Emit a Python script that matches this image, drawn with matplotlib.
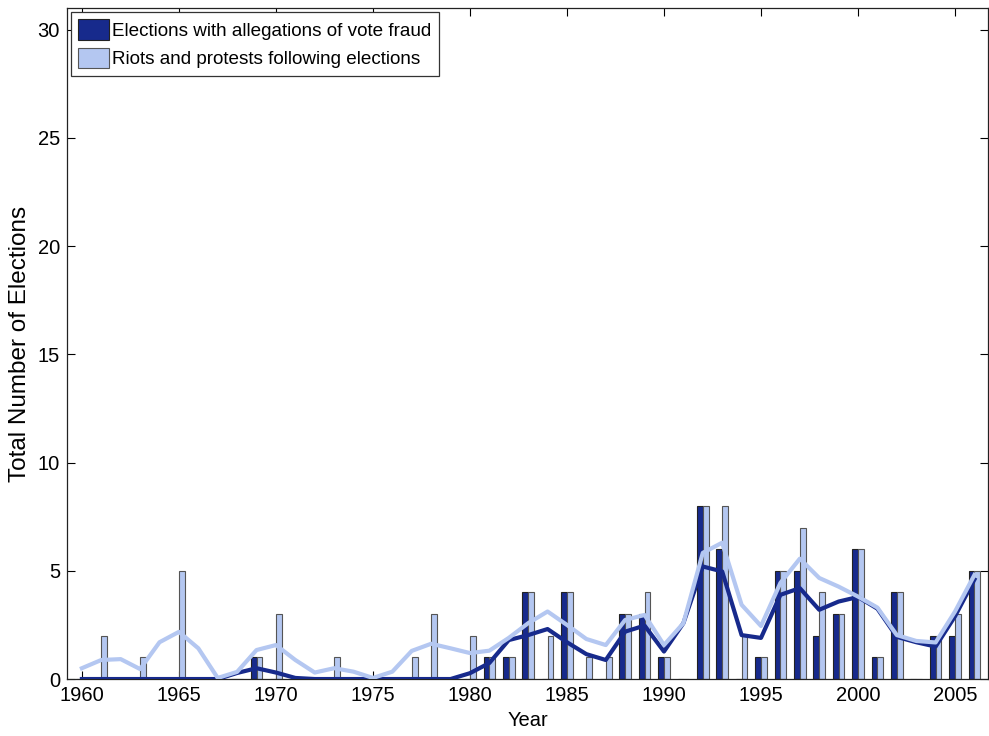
import matplotlib
matplotlib.use("Agg")
import matplotlib.pyplot as plt
import numpy as np

years = list(range(1960, 2007))

# bar counts per year (1960..2006)
fraud = [0, 0, 0, 0, 0, 0, 0, 0, 0, 1,
         0, 0, 0, 0, 0, 0, 0, 0, 0, 0,
         0, 1, 1, 4, 0, 4, 0, 0, 3, 3,
         1, 0, 8, 6, 0, 1, 5, 5, 2, 3,
         6, 1, 4, 0, 2, 2, 5]
riots = [0, 2, 0, 1, 0, 5, 0, 0, 0, 1,
         3, 0, 0, 1, 0, 0, 0, 1, 3, 0,
         2, 1, 1, 4, 2, 4, 1, 1, 3, 4,
         1, 0, 8, 8, 2, 1, 5, 7, 4, 3,
         6, 1, 4, 0, 2, 3, 5]

# smoothed trend lines
fraud_smooth = [0, 0, 0, 0, 0, 0, 0, 0, 0.28, 0.5,
                0.3, 0.05, 0, 0, 0, 0, 0, 0, 0, 0,
                0.27, 0.74, 1.8, 2.03, 2.31, 1.7, 1.15, 0.88, 2.19, 2.47,
                1.27, 2.58, 5.2, 4.97, 2.03, 1.9, 3.89, 4.2, 3.2, 3.58,
                3.79, 3.25, 1.95, 1.7, 1.5, 2.9, 4.6]
riots_smooth = [0.5, 0.88, 0.92, 0.46, 1.7, 2.18, 1.42, 0.05, 0.33, 1.34,
                1.57, 0.88, 0.3, 0.5, 0.34, 0.05, 0.34, 1.3, 1.63, 1.42,
                1.2, 1.31, 1.9, 2.58, 3.12, 2.5, 1.85, 1.57, 2.73, 2.96,
                1.57, 2.58, 5.83, 6.3, 3.43, 2.45, 4.44, 5.56, 4.67, 4.27,
                3.81, 3.3, 2.03, 1.76, 1.69, 3.12, 4.81]

dark = '#172a8c'
light = '#b4c7f1'

plt.rcParams['font.family'] = ['Liberation Sans', 'DejaVu Sans']

fig = plt.figure(figsize=(9.89, 7.36), dpi=100)
ax = fig.add_axes([0.0677, 0.0774, 0.9313, 0.9116])

x = np.array(years)
w = 0.3
ax.bar(x - w / 2, fraud, width=w, color=dark, edgecolor='#222222', linewidth=0.8,
       label='Elections with allegations of vote fraud', zorder=2)
ax.bar(x + w / 2, riots, width=w, color=light, edgecolor='#555555', linewidth=0.8,
       label='Riots and protests following elections', zorder=2)
ax.plot(x, fraud_smooth, color=dark, linewidth=3.0, zorder=3)
ax.plot(x, riots_smooth, color=light, linewidth=3.0, zorder=4)

ax.set_xlim(1959.23, 2006.7)
ax.set_ylim(0, 31)
ax.set_xticks(range(1960, 2006, 5))
ax.set_yticks(range(0, 31, 5))
ax.tick_params(direction='in', length=6, width=0.8, top=True, right=True,
               labelsize=14.5)
ax.tick_params(axis='x', pad=5)
ax.tick_params(axis='y', pad=5)
for s in ax.spines.values():
    s.set_linewidth(0.9)
    s.set_color('#222222')

ax.set_xlabel('Year', fontsize=14.5, labelpad=4)
ax.set_ylabel('Total Number of Elections', fontsize=17.5, labelpad=5)

leg = ax.legend(loc='upper left', fontsize=13.6, fancybox=False, framealpha=1,
                edgecolor='#333333', borderaxespad=0.2, handlelength=1.6,
                handleheight=1.27, handletextpad=0.2, borderpad=0.4,
                labelspacing=0.42)
leg.get_frame().set_linewidth(0.9)

fig.savefig('out.png', dpi=100)
